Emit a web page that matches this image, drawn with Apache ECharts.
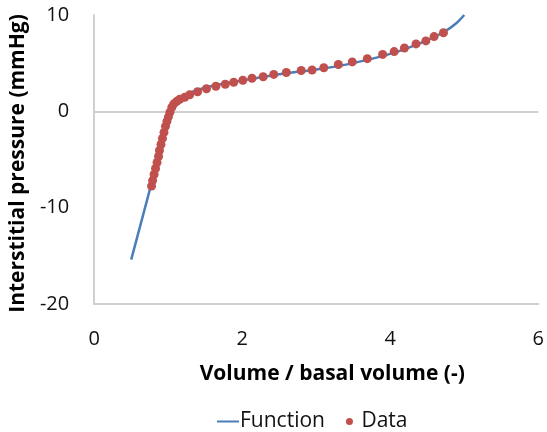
<!DOCTYPE html>
<html>
<head>
<meta charset="utf-8">
<script src="https://cdn.jsdelivr.net/npm/echarts@6/dist/echarts.min.js"></script>
<style>
  html, body { margin: 0; padding: 0; background: #ffffff; }
  #chart { width: 547px; height: 432px; }
</style>
</head>
<body>
<div id="chart"></div>
<script>
// Fitted pressure-volume function (volume ratio, pressure in mmHg)
const functionVolume = [0.5, 0.86, 0.95, 1.02, 1.07, 1.12, 1.2, 1.3, 1.45, 1.6, 1.8, 2.0, 2.3, 2.6, 3.0, 3.4, 3.8, 4.1, 4.4, 4.6, 4.75, 4.9, 5.0];
const functionPressure = [-15.4, -5.0, -2.4, -0.5, 0.4, 1.0, 1.5, 1.95, 2.35, 2.65, 2.95, 3.2, 3.6, 3.95, 4.35, 4.85, 5.55, 6.2, 7.05, 7.75, 8.35, 9.2, 10.0];

// Measured points
const dataVolume = [0.775, 0.789, 0.809, 0.829, 0.849, 0.869, 0.882, 0.902, 0.922, 0.943, 0.963, 0.983, 1.003, 1.023, 1.049, 1.076,
  1.116, 1.156, 1.223, 1.290, 1.397, 1.517, 1.644, 1.771, 1.885, 2.008, 2.132, 2.283, 2.426, 2.596, 2.797, 2.944,
  3.102, 3.299, 3.487, 3.690, 3.897, 4.053, 4.191, 4.348, 4.481, 4.592, 4.719];
const dataPressure = [-7.76, -7.19, -6.56, -5.94, -5.31, -4.69, -4.06, -3.44, -2.81, -2.19, -1.56, -1.04, -0.57, -0.10, 0.42, 0.78,
  1.04, 1.25, 1.46, 1.72, 2.03, 2.34, 2.60, 2.81, 3.02, 3.23, 3.44, 3.59, 3.83, 4.03, 4.24, 4.29,
  4.53, 4.86, 5.13, 5.47, 5.91, 6.20, 6.58, 7.00, 7.31, 7.76, 8.16];

// Axis ticks
const xTicks = [0, 2, 4, 6];
const yTicks = [-20, -10, 0, 10];

const functionPoints = functionVolume.map((v, i) => [v, functionPressure[i]]);
const dataPoints = dataVolume.map((v, i) => [v, dataPressure[i]]);

const FONT = '"Open Sans", Lato, sans-serif';
const chart = echarts.init(document.getElementById('chart'), null, { renderer: 'canvas' });

chart.setOption({
  animation: false,
  backgroundColor: '#ffffff',
  grid: { left: 93, right: 6, top: 15, bottom: 128, containLabel: false },
  xAxis: {
    type: 'value',
    min: xTicks[0],
    max: xTicks[xTicks.length - 1],
    interval: 2,
    name: 'Volume / basal volume (-)',
    nameLocation: 'middle',
    nameGap: 60,
    nameTextStyle: { fontFamily: FONT, fontSize: 21, fontWeight: 'bold', color: '#000', padding: [0, 0, 0, 32] },
    axisLine: { onZero: false, lineStyle: { color: '#d0d0d0', width: 2 } },
    axisTick: { show: false },
    splitLine: { show: false },
    axisLabel: { fontFamily: FONT, fontSize: 20, color: '#111', margin: 25 }
  },
  yAxis: {
    type: 'value',
    min: yTicks[0],
    max: yTicks[yTicks.length - 1],
    interval: 10,
    name: 'Interstitial pressure (mmHg)',
    nameLocation: 'middle',
    nameGap: 57,
    nameTextStyle: { fontFamily: FONT, fontSize: 21, fontWeight: 'bold', color: '#000', padding: [0, 8, 0, 0] },
    axisLine: { show: true, lineStyle: { color: '#d0d0d0', width: 2 } },
    axisTick: { show: false },
    splitLine: { show: false },
    axisLabel: { fontFamily: FONT, fontSize: 20, color: '#111', margin: 25 }
  },
  legend: {
    top: 406,
    left: 212,
    itemGap: 21,
    itemWidth: 22,
    itemHeight: 7,
    textStyle: { fontFamily: FONT, fontSize: 21, color: '#111', padding: [0, 0, 0, -4] },
    data: [
      { name: 'Function', icon: 'path://M0,3 L22,3 L22,5 L0,5 Z' },
      { name: 'Data', icon: 'circle' }
    ]
  },
  series: [
    {
      name: 'Function',
      type: 'line',
      data: functionPoints,
      smooth: 0.3,
      showSymbol: false,
      symbol: 'none',
      lineStyle: { color: '#4a7ebb', width: 2.5 },
      itemStyle: { color: '#4a7ebb' },
      z: 2,
      markLine: {
        silent: true,
        symbol: 'none',
        label: { show: false },
        lineStyle: { color: '#d0d0d0', width: 2, type: 'solid' },
        data: [{ yAxis: 0 }],
        z: 1
      }
    },
    {
      name: 'Data',
      type: 'scatter',
      data: dataPoints,
      symbol: 'circle',
      symbolSize: 9,
      itemStyle: { color: '#c0504d', opacity: 1 },
      z: 3
    }
  ]
});
</script>
</body>
</html>
